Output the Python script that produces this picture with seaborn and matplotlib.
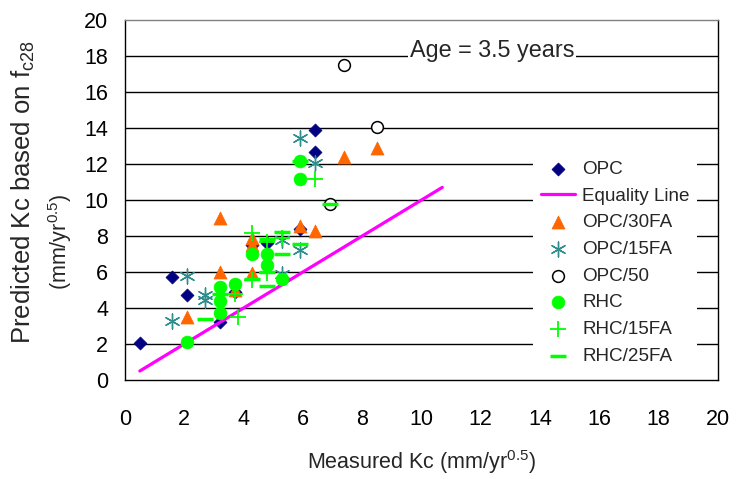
import matplotlib
matplotlib.use("Agg")
import matplotlib.pyplot as plt
import seaborn as sns
import pandas as pd

# ---- data ----
opc_x = [0.5, 1.6, 2.1, 3.2, 3.7, 4.3, 4.8, 5.9, 6.4, 6.4]
opc_y = [2.07, 5.75, 4.75, 3.25, 4.9, 7.5, 7.6, 8.4, 13.9, 12.65]

eq_x = [0.5, 10.7]
eq_y = [0.5, 10.7]

opc30_x = [2.1, 3.2, 3.2, 3.7, 4.3, 4.3, 4.3, 5.9, 6.4, 7.4, 8.5]
opc30_y = [3.52, 8.98, 6.02, 5.0, 7.9, 7.5, 5.96, 8.55, 8.3, 12.41, 12.9]

opc15_x = [1.6, 2.1, 2.7, 2.7, 5.3, 5.3, 5.9, 5.9, 6.4]
opc15_y = [3.3, 5.78, 4.75, 4.44, 7.8, 5.9, 7.22, 13.46, 12.04]

opc50_x = [7.4, 8.5, 6.9]
opc50_y = [17.5, 14.07, 9.78]

rhc_x = [2.1, 3.2, 3.2, 3.2, 3.7, 4.3, 4.8, 4.8, 5.3, 5.9, 5.9]
rhc_y = [2.1, 5.18, 4.39, 3.74, 5.31, 6.98, 6.98, 6.39, 5.61, 12.18, 11.15]

rhc15_x = [3.7, 3.8, 4.3, 4.3, 4.8, 4.8, 5.3, 6.4]
rhc15_y = [4.8, 3.48, 8.15, 5.56, 7.65, 5.96, 7.9, 11.15]

rhc25_x = [2.7, 3.2, 4.3, 4.8, 4.8, 4.8, 5.3, 5.3, 5.9, 5.9, 6.9]
rhc25_y = [3.4, 4.76, 5.6, 7.85, 6.02, 5.22, 8.2, 6.98, 7.54, 12.18, 9.78]

x_ticks = list(range(0, 21, 2))
y_ticks = list(range(0, 21, 2))

# ---- styling ----
sns.set_theme(style="white")
plt.rcParams["font.family"] = ["Liberation Sans", "DejaVu Sans"]
plt.rcParams["mathtext.fontset"] = "custom"
plt.rcParams["mathtext.rm"] = "Liberation Sans"
plt.rcParams["mathtext.it"] = "Liberation Sans"
plt.rcParams["mathtext.default"] = "regular"

fig = plt.figure(figsize=(7.44, 4.79), dpi=100)
ax = fig.add_axes([125 / 744, 1 - 380 / 479, 593 / 744, 360 / 479])

z = 3
sns.scatterplot(x=opc_x, y=opc_y, ax=ax, marker="D", s=44, color="#000080",
                edgecolor="#000080", linewidth=0.5, label="OPC", zorder=z)
sns.lineplot(x=eq_x, y=eq_y, ax=ax, color="#FF00FF", linewidth=2.3,
             label="Equality Line", zorder=z + 1)
sns.scatterplot(x=opc30_x, y=opc30_y, ax=ax, marker="^", s=88, color="#FF6600",
                edgecolor="#FF6600", linewidth=0.5, label="OPC/30FA", zorder=z + 2)
sns.scatterplot(x=opc15_x, y=opc15_y, ax=ax, marker=(6, 2, 0), s=115,
                color="#2E8E8E", linewidth=1.0, label="OPC/15FA", zorder=z + 3)
sns.scatterplot(x=opc50_x, y=opc50_y, ax=ax, marker="o", s=72, color="white",
                edgecolor="black", linewidth=1.1, label="OPC/50", zorder=z + 4)
sns.scatterplot(x=rhc_x, y=rhc_y, ax=ax, marker="o", s=85, color="#00FF00",
                edgecolor="#00FF00", linewidth=0.5, label="RHC", zorder=z + 5)
sns.scatterplot(x=rhc15_x, y=rhc15_y, ax=ax, marker="+", s=145,
                color="#00FF00", linewidth=1.3, label="RHC/15FA", zorder=z + 6)
sns.scatterplot(x=rhc25_x, y=rhc25_y, ax=ax, marker="_", s=125,
                color="#00FF00", linewidth=2.5, label="RHC/25FA", zorder=z + 7)

# ---- axes ----
ax.set_xlim(0, 20)
ax.set_ylim(0, 20)
ax.set_xticks(x_ticks)
ax.set_yticks(y_ticks)
ax.tick_params(axis="both", labelsize=15.5, colors="black")
ax.tick_params(axis="y", direction="inout", length=10, width=1, pad=7)
ax.tick_params(axis="x", direction="out", length=6, width=1, pad=15)
for g in y_ticks[1:-1]:
    ax.axhline(g, color="black", linewidth=1.0, zorder=1)
for side in ["left", "bottom", "right"]:
    ax.spines[side].set_color("black")
    ax.spines[side].set_linewidth(1.0)
ax.spines["top"].set_color("#808080")
ax.spines["top"].set_linewidth(1.0)

ax.set_xlabel("Measured Kc (mm/yr$^{0.5}$)", fontsize=15.5)
ax.xaxis.set_label_coords(0.5, -0.188)

# y label: first line as the axis label, second line as a companion text
ax.set_ylabel("Predicted Kc based on f$_{c28}$", fontsize=18.5, va="center")
ax.yaxis.set_label_coords(-0.172, 0.522)
ax.text(-0.110, 0.383, "(mm/yr$^{0.5}$)", transform=ax.transAxes, rotation=90,
        ha="center", va="center", fontsize=15.5)

ax.text(12.38, 18.33, "Age = 3.5 years", fontsize=16.8, ha="center", va="center",
        zorder=20, bbox=dict(facecolor="white", edgecolor="none", pad=1))

leg = ax.legend(loc="center left", bbox_to_anchor=(0.688, 0.326), fontsize=13.6,
                frameon=True, facecolor="white", edgecolor="none", framealpha=1,
                labelspacing=0.5, handlelength=1.85, handletextpad=0.35,
                borderpad=0.4, borderaxespad=0, fancybox=False)
leg.set_zorder(15)

fig.savefig("out.png", dpi=100)
